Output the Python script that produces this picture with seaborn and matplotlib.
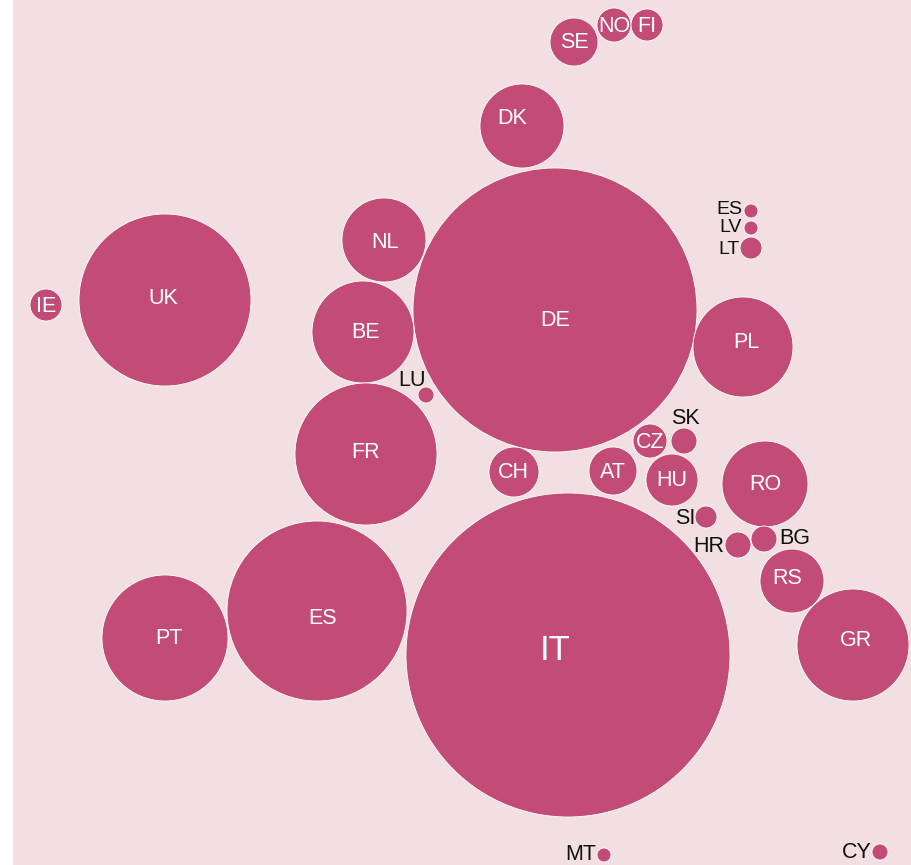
import matplotlib
matplotlib.use("Agg")
import matplotlib.pyplot as plt
import seaborn as sns
import pandas as pd
import numpy as np

# ---- data (map-space centres and circle radii) ----
codes = ["SE", "NO", "FI", "DK", "DE", "NL", "UK", "IE", "BE", "LU", "FR",
         "CH", "AT", "CZ", "SK", "HU", "PL", "RO", "SI", "HR", "BG", "RS",
         "GR", "ES", "PT", "IT", "MT", "CY", "EE", "LV", "LT"]
labels = ["SE", "NO", "FI", "DK", "DE", "NL", "UK", "IE", "BE", "LU", "FR",
          "CH", "AT", "CZ", "SK", "HU", "PL", "RO", "SI", "HR", "BG", "RS",
          "GR", "ES", "PT", "IT", "MT", "CY", "ES", "LV", "LT"]
xs = [574, 614, 647, 522, 555, 384, 165, 46, 363, 426, 366,
      514, 613, 650, 684, 672, 743, 765, 706, 738, 764, 792,
      853, 317, 165, 568, 604, 880, 751, 751, 751]
ys = [42, 25, 25, 126, 310, 240, 300, 305, 332, 395, 454,
      472, 471, 441, 441, 480, 347, 484, 517, 545, 539, 581,
      645, 611, 638, 655, 855, 852, 211, 228, 248]
radius = [24, 17, 16, 42, 142, 42, 86, 16, 51, 8, 71,
          25, 24, 17, 13, 26, 50, 43, 11, 13, 13, 32,
          56, 90, 63, 162, 7, 8, 7, 7, 11]

# ---- styling ----
BG = "#F1DFE2"
CIRCLE = "#C24B78"
DPI = 100
W, H = 912, 865

# outside (black) label placement: (dx, dy, ha, fontsize)
outside = {
    "LU": (-14, -15, "center", 15.5),
    "SK": (1, -23, "center", 15.5),
    "SI": (-11, 2, "right", 15.5),
    "HR": (-14, 1, "right", 15.5),
    "BG": (15, -1, "left", 15.5),
    "MT": (-8, 0, "right", 15.5),
    "CY": (-8, 0, "right", 15.5),
    "EE": (-9, -1, "right", 14),
    "LV": (-9, 0, "right", 14),
    "LT": (-11, 1, "right", 14),
}
# inside (white) label nudges: (dx, dy)
inside_shift = {
    "DE": (0, 10), "IT": (-13, -6), "DK": (-10, -9), "ES": (6, 6),
    "PT": (4, 0), "GR": (3, -5), "PL": (3, -5), "RS": (-5, -3),
    "BE": (3, 0), "UK": (-2, -2), "NL": (1, 1), "CH": (-1, -1), "FR": (0, -2),
}

df = pd.DataFrame({"code": codes, "label": labels, "x": xs, "y": ys, "r": radius})
# marker area in points^2 for a circle of radius r pixels
df["s"] = (2 * df["r"] * 72.0 / DPI) ** 2

sns.set_theme(style="white")
plt.rcParams["font.family"] = ["Liberation Sans", "DejaVu Sans"]

fig = plt.figure(figsize=(W / DPI, H / DPI), dpi=DPI, facecolor="white")
fig.patches.append(plt.Rectangle((13 / W, 0), 1, 1, transform=fig.transFigure,
                                 facecolor=BG, edgecolor="none", zorder=-10))
ax = fig.add_axes([13 / W, 0, (W - 13) / W, 1])
ax.set_facecolor(BG)

sns.scatterplot(data=df, x="x", y="y", s=df["s"].values, color=CIRCLE,
                edgecolor="white", linewidth=0.6, alpha=1, legend=False, ax=ax)

ax.set_xlim(13, W)
ax.set_ylim(H, 0)
ax.set_xticks([])
ax.set_yticks([])
ax.set_xlabel("")
ax.set_ylabel("")
for sp in ax.spines.values():
    sp.set_visible(False)

for _, row in df.iterrows():
    if row["code"] in outside:
        dx, dy, ha, fs = outside[row["code"]]
        ax.text(row["x"] + dx, row["y"] + dy, row["label"], ha=ha, va="center",
                color="#111111", fontsize=fs)
    else:
        dx, dy = inside_shift.get(row["code"], (0, 0))
        fs = 25 if row["code"] == "IT" else 15.5
        ax.text(row["x"] + dx, row["y"] + dy + 1, row["label"], ha="center",
                va="center", color="white", fontsize=fs)

fig.savefig("out.png", dpi=DPI, facecolor="white")
